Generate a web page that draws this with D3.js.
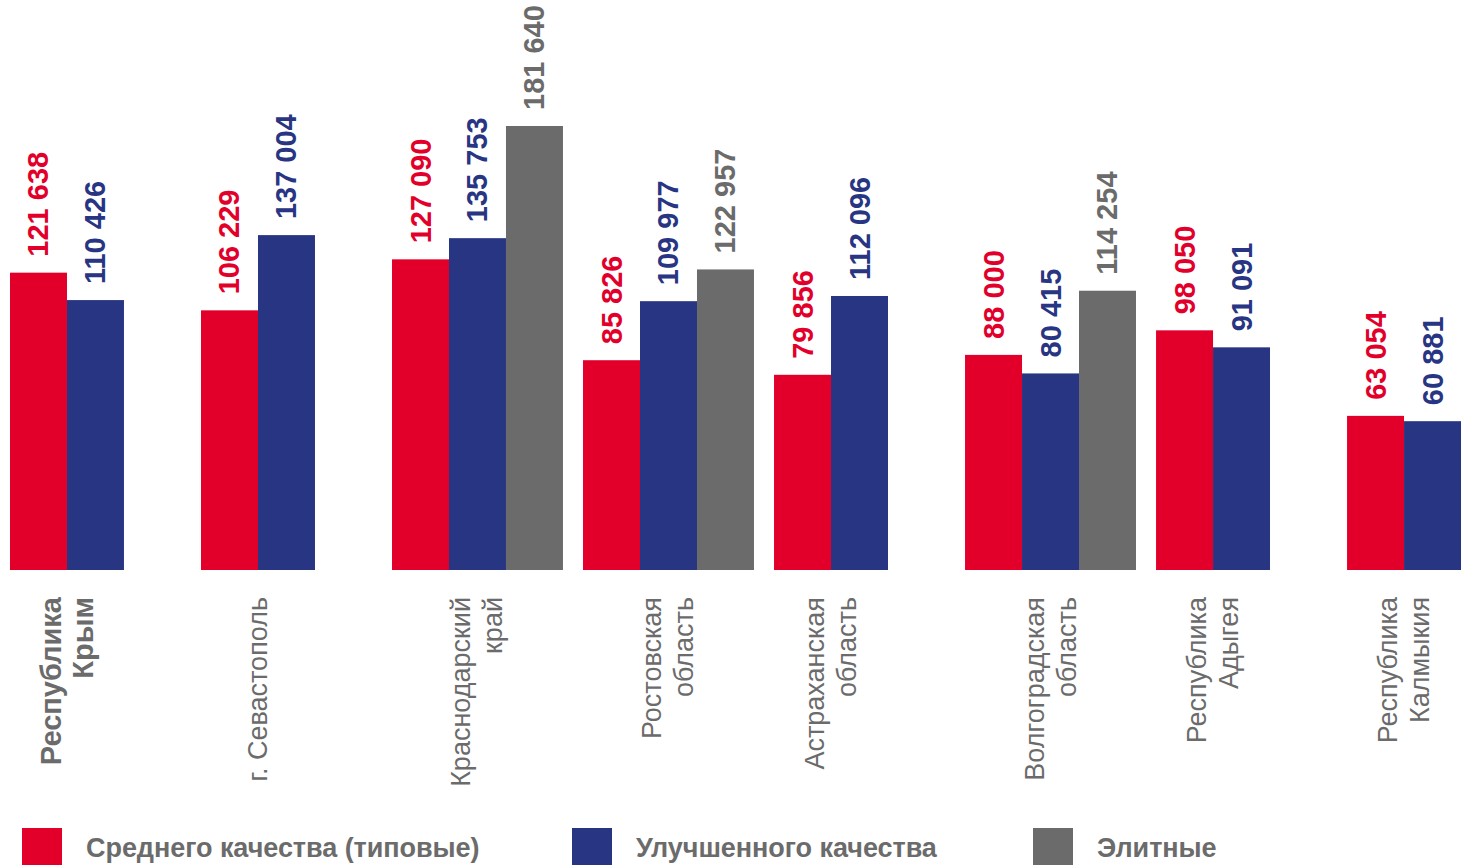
<!DOCTYPE html>
<html>
<head>
<meta charset="utf-8">
<script src="https://cdn.jsdelivr.net/npm/d3@7"></script>
<style>
  body { margin: 0; background: #fff; }
  svg { display: block; font-family: "Liberation Sans", Arial, sans-serif; }
</style>
</head>
<body>
<svg id="chart" width="1473" height="865"></svg>
<script>
// categories (line breaks as in the picture)
const regions = [
  ["Республика", "Крым"],
  ["г. Севастополь"],
  ["Краснодарский", "край"],
  ["Ростовская", "область"],
  ["Астраханская", "область"],
  ["Волгоградская", "область"],
  ["Республика", "Адыгея"],
  ["Республика", "Калмыкия"]
];
const seriesNames = ["Среднего качества (типовые)", "Улучшенного качества", "Элитные"];
const typical  = [121638, 106229, 127090, 85826, 79856, 88000, 98050, 63054];
const improved = [110426, 137004, 135753, 109977, 112096, 80415, 91091, 60881];
const elite    = [null, null, 181640, 122957, null, 114254, null, null];

const colors = ["#e2002b", "#283583", "#6b6b6b"];
const textGrey = "#6b6b6b";

const svg = d3.select("#chart");
const baseY = 570;

const rows = regions.map((r, i) => ({
  key: r.join(" "),
  lines: r,
  bold: i === 0,
  values: [typical[i], improved[i], elite[i]]
}));

// Scales
const x0 = d3.scaleBand()
  .domain(rows.map(d => d.key))
  .range([10, 1518])
  .paddingInner(0.105)
  .paddingOuter(0);

const x1 = d3.scaleBand()
  .domain(d3.range(seriesNames.length))
  .range([0, x0.bandwidth()]);

const yScale = d3.scaleLinear()
  .domain([0, d3.max(elite)])
  .range([baseY, 126]);

const fmt = v => d3.format(",")(v).replace(/,/g, " ");

// Bars + value labels
const groups = svg.selectAll("g.group")
  .data(rows)
  .join("g")
    .attr("class", "group")
    .attr("transform", d => `translate(${x0(d.key)},0)`);

const cells = d => d.values
  .map((v, s) => ({ v, s }))
  .filter(c => c.v != null);

groups.selectAll("rect")
  .data(cells)
  .join("rect")
    .attr("x", c => x1(c.s))
    .attr("y", c => yScale(c.v))
    .attr("width", x1.bandwidth())
    .attr("height", c => baseY - yScale(c.v))
    .attr("fill", c => colors[c.s]);

groups.selectAll("text.val")
  .data(cells)
  .join("text")
    .attr("class", "val")
    .attr("transform", c => `translate(${x1(c.s) + x1.bandwidth() / 2},${yScale(c.v) - 16}) rotate(-90)`)
    .attr("dominant-baseline", "central")
    .attr("text-anchor", "start")
    .attr("fill", c => colors[c.s])
    .style("font-size", "29px")
    .style("font-weight", 700)
    .text(c => fmt(c.v));

// Category labels (rotated, aligned at the top)
const lineH = 32;
groups.each(function(d) {
  const n = cells(d).length;
  const cx = (x1(0) + x1(n - 1) + x1.bandwidth()) / 2;
  const t = d3.select(this).append("text")
    .attr("transform", `translate(${cx},597) rotate(-90)`)
    .attr("text-anchor", "end")
    .attr("dominant-baseline", "central")
    .attr("fill", textGrey)
    .style("font-size", d.bold ? "29px" : "27px")
    .style("font-weight", d.bold ? 700 : 400);
  d.lines.forEach((line, k) => {
    t.append("tspan")
      .attr("x", 0)
      .attr("y", (k - (d.lines.length - 1) / 2) * lineH)
      .text(line);
  });
});

// Legend
const legendX = [22, 572, 1033];
const legend = svg.selectAll("g.legend")
  .data(seriesNames)
  .join("g")
    .attr("class", "legend")
    .attr("transform", (_, i) => `translate(${legendX[i]},828)`);

legend.append("rect")
  .attr("width", 40)
  .attr("height", 40)
  .attr("fill", (_, i) => colors[i]);

legend.append("text")
  .attr("x", 64)
  .attr("y", 20)
  .attr("dominant-baseline", "central")
  .attr("fill", textGrey)
  .style("font-size", "27px")
  .style("font-weight", 700)
  .style("letter-spacing", "-0.05px")
  .text(d => d);
</script>
</body>
</html>
